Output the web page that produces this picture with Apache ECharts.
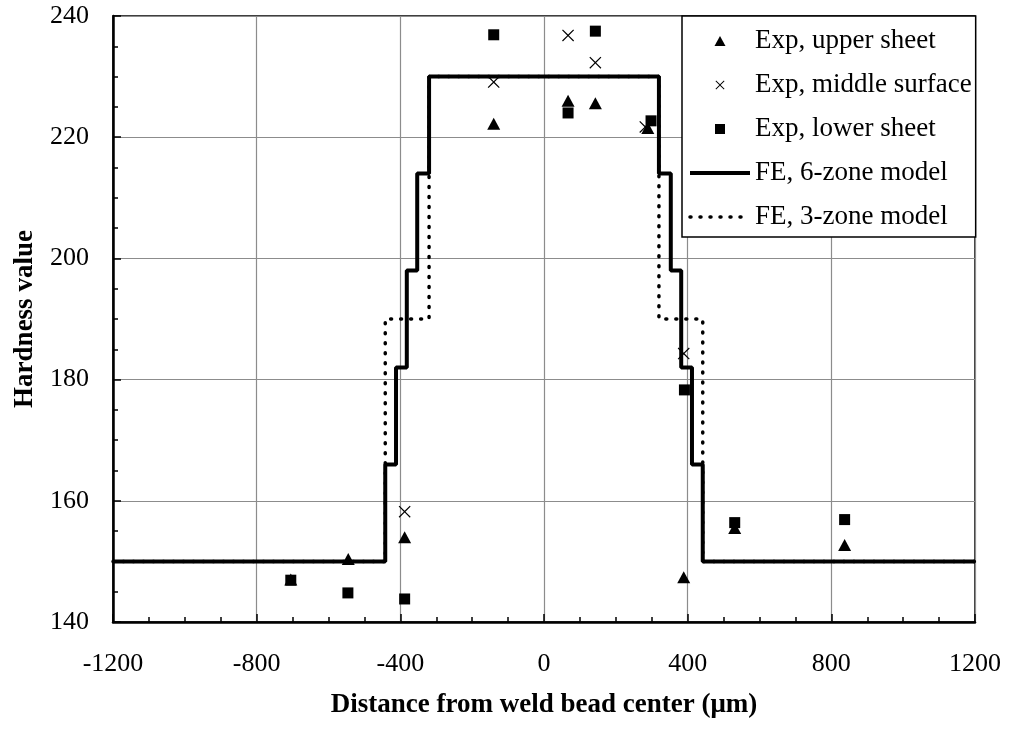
<!DOCTYPE html>
<html>
<head>
<meta charset="utf-8">
<script src="https://cdn.jsdelivr.net/npm/echarts@6/dist/echarts.min.js"></script>
<style>
html, body { margin: 0; background: #fff; }
#main { width: 1012px; height: 730px; }
</style>
</head>
<body>
<div id="main"></div>
<script>
// measured hardness, three positions through the joint
const upperX = [-705, -545, -388, -140, 67, 143, 289, 389, 531, 837]
const upperY = [147, 150.4, 154, 222.2, 226, 225.6, 221.5, 147.4, 155.5, 152.7]
const middleX = [-388, -140, 67, 143, 282, 389]
const middleY = [158.2, 229.1, 236.8, 232.3, 221.7, 184.3]
const lowerX = [-705, -546, -388, -140, 67, 143, 298, 391, 531, 837]
const lowerY = [146.9, 144.8, 143.8, 236.9, 224, 237.5, 222.7, 178.3, 156.4, 156.9]

// FE models: zone edges and hardness level reached at each edge (step 'end')
const zone6X = [-1200, -442, -412, -382, -353, -320, 320, 353, 382, 412, 442, 1200]
const zone6Y = [150, 166, 182, 198, 214, 230, 214, 198, 182, 166, 150, 150]
const zone3X = [-1200, -442, -320, 320, 442, 1200]
const zone3Y = [150, 190, 230, 190, 150, 150]

const xTicks = [-1200, -800, -400, 0, 400, 800, 1200]
const yTicks = [140, 160, 180, 200, 220, 240]

const names = ['Exp, upper sheet', 'Exp, middle surface', 'Exp, lower sheet',
  'FE, 6-zone model', 'FE, 3-zone model']

const pairs = (xs, ys) => xs.map((x, i) => [x, ys[i]])
const font = 'Liberation Serif'

// thin filled "x" in a 10x10 box
const crossPts = [[0, 0.7], [0.7, 0], [5, 4.3], [9.3, 0], [10, 0.7], [5.7, 5],
  [10, 9.3], [9.3, 10], [5, 5.7], [0.7, 10], [0, 9.3], [4.3, 5]]
const toPath = (pts, k, dx, dy) =>
  pts.map((p, i) => (i ? 'L' : 'M') + (p[0] * k + dx).toFixed(2) + ',' + (p[1] * k + dy).toFixed(2)).join('') + 'Z'
const crossPath = 'path://' + toPath(crossPts, 1, 0, 0)

// legend icons: small marker centred in a 60x12 box (corner moves fix the box)
const box = 'path://M0,0M60,12'
const legendTri = box + 'M24.5,11L30,1L35.5,11Z'
const legendRect = box + 'M25,1L35,1L35,11L25,11Z'
const legendCross = box + toPath(crossPts, 0.9, 25.5, 1.5)

const myChart = echarts.init(document.getElementById('main'))
myChart.setOption({
  animation: false,
  grid: {
    left: 113, right: 37, top: 16, bottom: 108,
    show: true, borderColor: '#000', borderWidth: 1.5, backgroundColor: 'transparent'
  },
  legend: {
    orient: 'vertical',
    left: 682, top: 16,
    padding: [10, 4, 5, 6],
    itemWidth: 60, itemHeight: 12, itemGap: 14,
    backgroundColor: '#fff', borderColor: '#000', borderWidth: 1.5, borderRadius: 0,
    selectedMode: false,
    textStyle: { fontFamily: font, fontSize: 27, lineHeight: 30, color: '#000' },
    data: [
      { name: names[0], icon: legendTri },
      { name: names[1], icon: legendCross },
      { name: names[2], icon: legendRect },
      { name: names[3], lineStyle: { width: 4 }, itemStyle: { opacity: 0 } },
      { name: names[4], lineStyle: { width: 3.5 }, itemStyle: { opacity: 0 } }
    ]
  },
  xAxis: {
    type: 'value',
    min: xTicks[0], max: xTicks[xTicks.length - 1], interval: 400,
    name: 'Distance from weld bead center (μm)',
    nameLocation: 'middle', nameGap: 70,
    nameTextStyle: { fontFamily: font, fontSize: 27, fontWeight: 'bold', color: '#000', lineHeight: 27 },
    axisLine: { onZero: false, lineStyle: { color: '#000', width: 2.5 } },
    axisTick: { inside: true, length: 8, lineStyle: { color: '#000', width: 1.5 } },
    minorTick: { show: true, splitNumber: 4, length: 5, lineStyle: { color: '#000', width: 1.5 } },
    axisLabel: {
      fontFamily: font, fontSize: 26, lineHeight: 26, color: '#000', margin: 29,
      formatter: v => String(v)
    },
    splitLine: { show: true, lineStyle: { color: '#8c8c8c', width: 1.2 } }
  },
  yAxis: {
    type: 'value',
    min: yTicks[0], max: yTicks[yTicks.length - 1], interval: 20,
    name: 'Hardness value',
    nameLocation: 'middle', nameGap: 74, nameRotate: 90,
    nameTextStyle: { fontFamily: font, fontSize: 27, fontWeight: 'bold', color: '#000' },
    axisLine: { onZero: false, lineStyle: { color: '#000', width: 2.5 } },
    axisTick: { inside: true, length: 8, lineStyle: { color: '#000', width: 1.5 } },
    minorTick: { show: true, splitNumber: 4, length: 5, lineStyle: { color: '#000', width: 1.5 } },
    axisLabel: { fontFamily: font, fontSize: 26, color: '#000', margin: 24 },
    splitLine: { show: true, lineStyle: { color: '#8c8c8c', width: 1.2 } }
  },
  series: [
    {
      name: names[4], type: 'line', step: 'end', symbol: 'none',
      data: pairs(zone3X, zone3Y),
      lineStyle: { color: '#000', width: 3.5, type: [1, 9], cap: 'round' },
      itemStyle: { color: '#000' }, z: 2
    },
    {
      name: names[3], type: 'line', step: 'end', symbol: 'none',
      data: pairs(zone6X, zone6Y),
      lineStyle: { color: '#000', width: 4 },
      itemStyle: { color: '#000' }, z: 3
    },
    {
      name: names[0], type: 'scatter', symbol: 'triangle', symbolSize: [13, 12],
      data: pairs(upperX, upperY),
      itemStyle: { color: '#000', opacity: 1 }, z: 4
    },
    {
      name: names[1], type: 'scatter', symbol: crossPath, symbolSize: 12,
      data: pairs(middleX, middleY),
      itemStyle: { color: '#000', opacity: 1 }, z: 4
    },
    {
      name: names[2], type: 'scatter', symbol: 'rect', symbolSize: 11,
      data: pairs(lowerX, lowerY),
      itemStyle: { color: '#000', opacity: 1 }, z: 4
    }
  ]
})
</script>
</body>
</html>
